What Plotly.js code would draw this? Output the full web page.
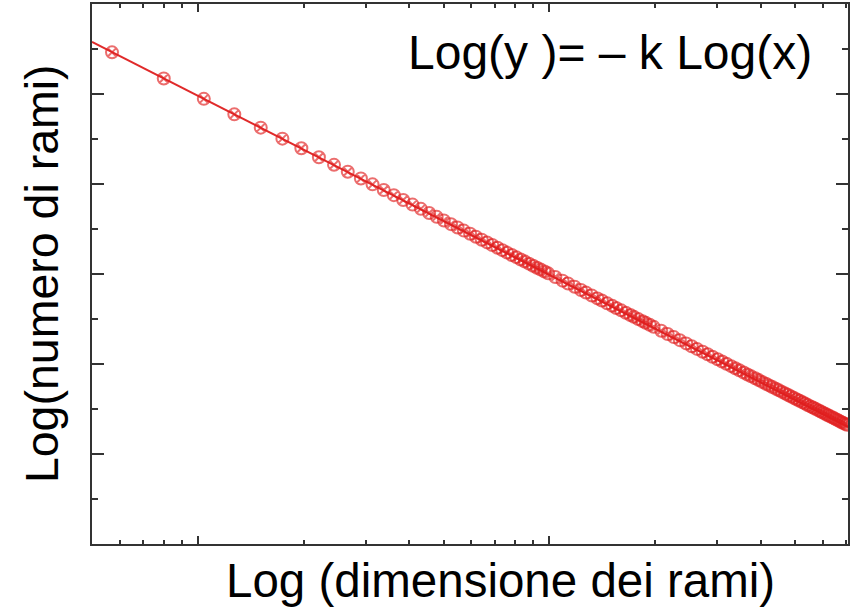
<!DOCTYPE html>
<html>
<head>
<meta charset="utf-8">
<script src="https://cdn.plot.ly/plotly-3.0.1.min.js"></script>
<style>html,body{margin:0;padding:0;background:#fff;}#chart{width:856px;height:610px;}</style>
</head>
<body>
<div id="chart"></div>
<script>
// Branch size (log axis) and log number of branches
const dimensione = [0.57,0.80,1.04,1.27,1.51,1.74,1.97,2.21,2.44,2.67,2.91,3.14,3.38,3.61,3.84,4.08,4.31,4.55,4.78,5.01,5.25,5.48,5.71,5.95,6.18,6.42,6.65,6.88,7.12,7.35,7.58,7.82,8.05,8.29,8.52,8.75,8.99,9.22,9.45,9.69,9.92,
10.4,10.9,11.3,11.8,12.3,12.7,13.2,13.7,14.1,14.6,15.1,15.5,16.0,16.5,17.0,17.4,17.9,18.4,18.8,19.3,19.8,
20.8,21.7,22.6,23.5,24.5,25.4,26.3,27.3,28.2,29.1,30.1,31.0,31.9,32.9,33.8,34.7,35.7,36.6,37.5,38.5,39.4,40.3,41.3,42.2,43.1,44.1,45.0,45.9,46.9,47.8,48.7,49.7,50.6,51.5,52.5,53.4,54.3,55.3,56.2,57.1,58.1,59.0,59.9,60.9,61.8,62.7,63.7,64.6,65.5,66.5,67.4,68.3,69.3,70.2];
const numeroRami = [5.463,5.172,4.946,4.774,4.626,4.504,4.397,4.298,4.213,4.136,4.061,3.996,3.933,3.876,3.823,3.771,3.724,3.677,3.635,3.594,3.554,3.517,3.482,3.447,3.414,3.381,3.351,3.322,3.292,3.265,3.238,3.211,3.187,3.161,3.138,3.115,3.091,3.070,3.049,3.027,3.007,
2.966,2.926,2.895,2.858,2.822,2.794,2.761,2.729,2.705,2.674,2.646,2.623,2.596,2.569,2.544,2.524,2.499,2.476,2.457,2.435,2.413,
2.370,2.334,2.299,2.265,2.229,2.198,2.168,2.136,2.109,2.081,2.052,2.027,2.002,1.976,1.953,1.930,1.906,1.884,1.863,1.841,1.821,1.801,1.780,1.762,1.744,1.724,1.707,1.690,1.671,1.655,1.639,1.621,1.606,1.591,1.574,1.560,1.545,1.529,1.516,1.502,1.487,1.474,1.461,1.447,1.434,1.421,1.408,1.396,1.384,1.371,1.359,1.348,1.335,1.324];
// Fitted line end points
const fitX = [0.5, 70.7];
const fitY = [5.58, 1.30];
// Tick positions (no labels shown)
const xMajor = [1, 10];
const xMinor = [0.6,0.7,0.8,0.9,2,3,4,5,6,7,8,9,20,30,40,50,60,70];
// Texts
const xTitle = 'Log (dimensione dei rami)';
const yTitle = 'Log(numero di rami)';
const formula = 'Log(y )= \u2013 k Log(x)';

const FONT = '"Liberation Sans", Arial, sans-serif';

const traces = [
  {x: fitX, y: fitY, type:'scatter', mode:'lines',
   line:{color:'#e02a2a', width:2}, hoverinfo:'skip', showlegend:false},
  {x: dimensione, y: numeroRami, type:'scatter', mode:'markers',
   marker:{symbol:'circle-x-open', size:12, color:'rgba(225,30,30,0.65)', line:{width:2}},
   hoverinfo:'skip', showlegend:false}
];

const axisCommon = {showgrid:false, zeroline:false, showline:true, linecolor:'#333', linewidth:2,
  mirror:'ticks', ticks:'inside', tickcolor:'#333', tickwidth:2, showticklabels:false};

const layout = {
  width:856, height:610,
  margin:{l:92, r:8, t:4, b:66},
  paper_bgcolor:'#fff', plot_bgcolor:'#fff',
  font:{family:FONT, color:'#000'},
  xaxis: Object.assign({}, axisCommon, {
    type:'log', range:[Math.log10(0.5), Math.log10(70.7)],
    tickmode:'array', tickvals:xMajor, ticklen:8,
    minor:{tickmode:'array', tickvals:xMinor, ticks:'inside', ticklen:4, tickcolor:'#333', tickwidth:2, showgrid:false}
  }),
  yaxis: Object.assign({}, axisCommon, {
    range:[0, 6], tickmode:'linear', tick0:0, dtick:1, ticklen:12,
    minor:{tickmode:'linear', dtick:0.5, ticks:'inside', ticklen:6, tickcolor:'#333', tickwidth:2, showgrid:false}
  }),
  annotations:[
    {xref:'paper', yref:'paper', x:0.685, y:0.91, xanchor:'center', yanchor:'middle',
     text:formula, showarrow:false, font:{size:48, family:FONT, color:'#000'}},
    {xref:'paper', yref:'paper', x:0.5397, y:-0.067, xanchor:'center', yanchor:'middle',
     text:xTitle, showarrow:false, font:{size:47.5, family:FONT, color:'#000'}},
    {xref:'paper', yref:'paper', x:-0.066, y:0.5, xanchor:'center', yanchor:'middle', textangle:-90,
     text:yTitle, showarrow:false, font:{size:46.5, family:FONT, color:'#000'}}
  ]
};

Plotly.newPlot('chart', traces, layout, {staticPlot:true, displayModeBar:false});
</script>
</body>
</html>
